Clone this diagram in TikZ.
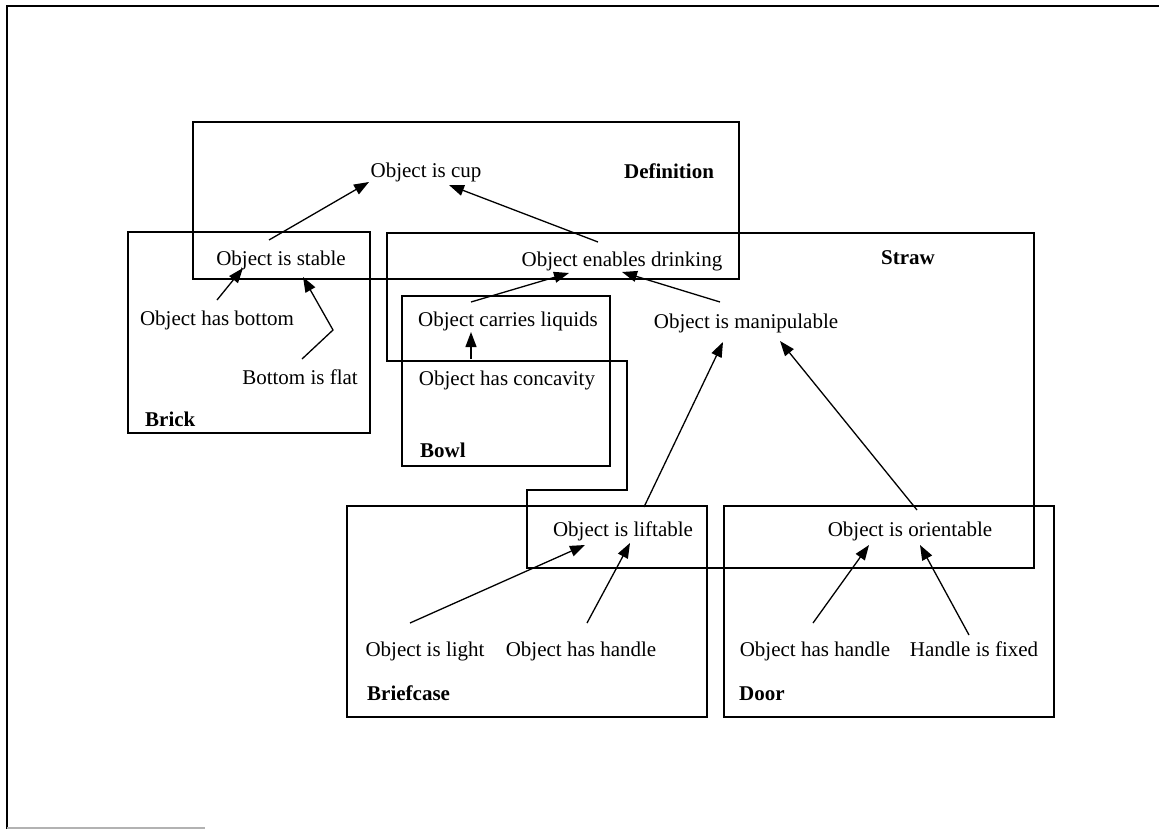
\documentclass[tikz,border=0pt]{standalone}
\usepackage{fontspec}
\setmainfont{Liberation Serif}
\usetikzlibrary{arrows.meta,calc}
\begin{document}
\begin{tikzpicture}[x=1pt,y=-1pt,
  txt/.style={inner sep=0pt, anchor=base, font=\fontsize{21}{25}\selectfont},
  lbl/.style={inner sep=0pt, anchor=base west, font=\fontsize{21}{25}\selectfont\bfseries},
  ttl/.style={inner sep=0pt, anchor=base, font=\fontsize{21}{25}\selectfont\bfseries},
  box/.style={draw=black, line width=1.3pt},
  arr/.style={draw=black, line width=1.3pt, -{Triangle[length=15pt,width=11pt]}}]
\useasboundingbox (0,0) rectangle (1159,830);
% outer frame
\draw[line width=2pt] (1159,6) -- (7,6) -- (7,829);
\draw[line width=1.5pt, gray!60] (7,828) -- (205,828);
% group boxes
\draw[box] (193,122) rectangle (739,279);
\draw[box] (128,232) rectangle (370,433);
\draw[box] (387,233) -- (1034,233) -- (1034,568) -- (527,568) -- (527,490) -- (627,490) -- (627,361) -- (387,361) -- cycle;
\draw[box] (402,296) rectangle (610,466);
\draw[box] (347,506) rectangle (707,717);
\draw[box] (724,506) rectangle (1054,717);
% texts
\node[txt] (cup) at (426,177) {Object is cup};
\node[ttl] (defn) at (669,178) {Definition};
\node[txt] (stable) at (281,265) {Object is stable};
\node[txt] (hasbottom) at (217,325) {Object has bottom};
\node[txt] (flat) at (300,384) {Bottom is flat};
\node[lbl] (brick) at (145,426) {Brick};
\node[txt] (drinking) at (622,266) {Object enables drinking};
\node[ttl] (straw) at (908,264) {Straw};
\node[txt] (liquids) at (508,326) {Object carries liquids};
\node[txt] (concavity) at (507,385) {Object has concavity};
\node[lbl] (bowl) at (420,457) {Bowl};
\node[txt] (manip) at (746,328) {Object is manipulable};
\node[txt] (liftable) at (623,536) {Object is liftable};
\node[txt] (orientable) at (910,536) {Object is orientable};
\node[txt] (light) at (425,656) {Object is light};
\node[txt] (bhandle) at (581,656) {Object has handle};
\node[lbl] (briefcase) at (367,700) {Briefcase};
\node[txt] (dhandle) at (815,656) {Object has handle};
\node[txt] (fixed) at (974,656) {Handle is fixed};
\node[lbl] (door) at (739,700) {Door};
% arrows
\draw[arr] ($(stable.base)+(-12,-25)$) -- ($(cup.base)+(-57,5)$);
\draw[arr] ($(drinking.base)+(-24,-24)$) -- ($(cup.base)+(23,8)$);
\draw[arr] ($(hasbottom.base)+(0,-25)$) -- ($(stable.base)+(-38,3)$);
\draw[arr] ($(flat.base)+(2,-25)$) -- ($(flat.base)+(33,-54)$) -- ($(stable.base)+(22,12)$);
\draw[arr] ($(liquids.base)+(-37,-24)$) -- ($(drinking.base)+(-53,7)$);
\draw[arr] ($(manip.base)+(-26,-26)$) -- ($(drinking.base)+(0,6)$);
\draw[arr] ($(concavity.base)+(-36,-26)$) -- ($(liquids.base)+(-37,6)$);
\draw[arr] ($(liftable.base)+(21,-29)$) -- ($(manip.base)+(-23,14)$);
\draw[arr] ($(orientable.base)+(7,-26)$) -- ($(manip.base)+(34,13)$);
\draw[arr] ($(light.base)+(-15,-33)$) -- ($(liftable.base)+(-38,9)$);
\draw[arr] ($(bhandle.base)+(6,-33)$) -- ($(liftable.base)+(7,7)$);
\draw[arr] ($(dhandle.base)+(-2,-33)$) -- ($(orientable.base)+(-41,9)$);
\draw[arr] ($(fixed.base)+(-5,-21)$) -- ($(orientable.base)+(10,9)$);
\end{tikzpicture}
\end{document}
